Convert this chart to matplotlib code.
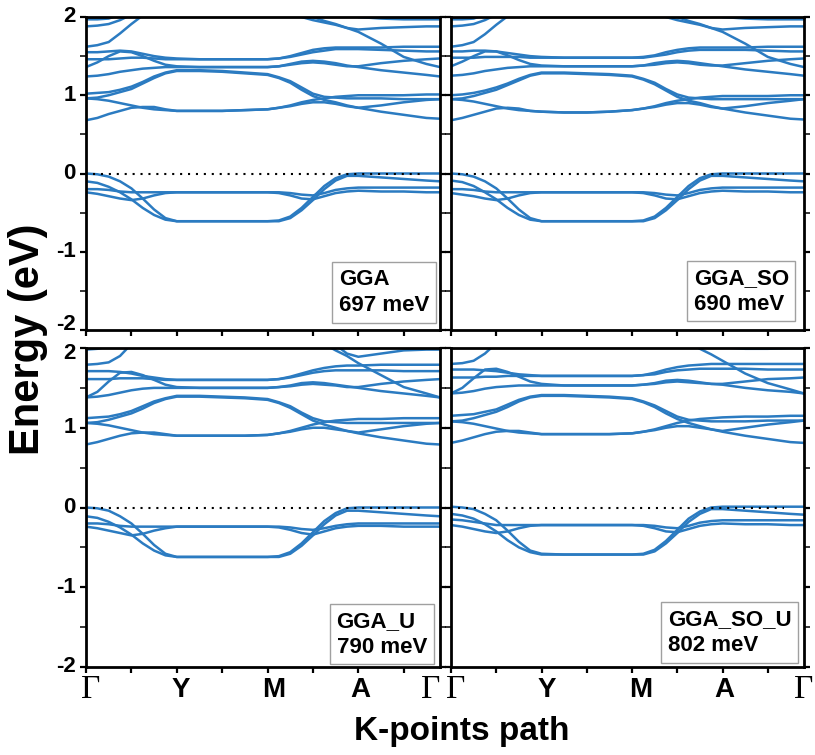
import numpy as np
import matplotlib.pyplot as plt
from matplotlib.ticker import MultipleLocator, NullFormatter
import matplotlib.transforms as mtransforms

plt.rcParams['font.family'] = ['Liberation Sans', 'DejaVu Sans']
plt.rcParams['font.weight'] = 'bold'

nan = np.nan

# k-path sampling (Gamma-Y-M-A-Gamma), finer where the bands bend
k = [0, 0.25, 0.5, 0.75, 1, 1.25, 1.5, 1.75, 2, 2.5, 3, 3.5, 4,
     4.25, 4.5, 4.75, 5, 5.25, 5.5, 5.75, 6, 6.5, 7, 7.5, 7.8]

# ---------------- GGA ----------------
gga_vb = [
    [0.00, -0.01, -0.04, -0.10, -0.19, -0.32, -0.46, -0.57, -0.61, -0.61, -0.61, -0.61, -0.61, -0.60, -0.55, -0.44, -0.30, -0.16, -0.06, -0.01, 0.00, 0.00, 0.00, 0.00, 0.00],
    [-0.10, -0.12, -0.17, -0.24, -0.33, -0.44, -0.53, -0.59, -0.61, -0.61, -0.61, -0.61, -0.61, -0.61, -0.57, -0.47, -0.34, -0.20, -0.09, -0.03, -0.03, -0.05, -0.07, -0.09, -0.10],
    [-0.20, -0.20, -0.21, -0.23, -0.24, -0.24, -0.24, -0.24, -0.24, -0.24, -0.24, -0.24, -0.24, -0.24, -0.25, -0.27, -0.28, -0.25, -0.21, -0.19, -0.18, -0.18, -0.18, -0.18, -0.18],
    [-0.24, -0.26, -0.29, -0.32, -0.34, -0.32, -0.28, -0.25, -0.24, -0.24, -0.24, -0.24, -0.24, -0.25, -0.28, -0.32, -0.33, -0.29, -0.25, -0.23, -0.22, -0.23, -0.23, -0.24, -0.24],
]
gga_cb = [
    [0.68, 0.71, 0.76, 0.80, 0.84, 0.85, 0.85, 0.82, 0.80, 0.80, 0.80, 0.81, 0.82, 0.84, 0.87, 0.91, 0.94, 0.96, 0.98, 0.99, 1.00, 1.00, 1.00, 1.01, 1.01],
    [0.96, 0.95, 0.93, 0.90, 0.87, 0.84, 0.82, 0.81, 0.80, 0.80, 0.80, 0.81, 0.82, 0.84, 0.86, 0.89, 0.91, 0.91, 0.89, 0.86, 0.84, 0.87, 0.91, 0.94, 0.95],
    [0.96, 0.97, 1.00, 1.04, 1.08, 1.15, 1.22, 1.28, 1.31, 1.31, 1.30, 1.28, 1.26, 1.22, 1.16, 1.07, 0.99, 0.94, 0.91, 0.87, 0.84, 0.79, 0.75, 0.71, 0.70],
    [1.02, 1.03, 1.04, 1.07, 1.11, 1.17, 1.24, 1.29, 1.32, 1.32, 1.31, 1.29, 1.27, 1.23, 1.18, 1.10, 1.02, 0.98, 0.97, 0.96, 0.96, 0.96, 0.95, 0.95, 0.95],
    [1.24, 1.25, 1.27, 1.30, 1.32, 1.34, 1.35, 1.36, 1.36, 1.36, 1.36, 1.36, 1.36, 1.37, 1.40, 1.43, 1.44, 1.43, 1.41, 1.38, 1.36, 1.32, 1.29, 1.26, 1.24],
    [1.36, 1.42, 1.50, 1.56, 1.55, 1.50, 1.44, 1.39, 1.37, 1.36, 1.36, 1.36, 1.36, 1.37, 1.39, 1.41, 1.42, 1.41, 1.39, 1.37, 1.37, 1.41, 1.44, 1.46, 1.47],
    [1.46, 1.46, 1.46, 1.47, 1.48, 1.48, 1.47, 1.46, 1.46, 1.46, 1.46, 1.46, 1.46, 1.47, 1.50, 1.54, 1.58, 1.60, 1.61, 1.61, 1.61, 1.61, 1.62, 1.62, 1.62],
    [1.55, 1.55, 1.56, 1.57, 1.56, 1.53, 1.50, 1.48, 1.47, 1.46, 1.46, 1.46, 1.46, 1.47, 1.49, 1.52, 1.55, 1.57, 1.59, 1.59, 1.59, 1.58, 1.57, 1.56, 1.56],
    [1.62, 1.64, 1.68, 1.79, 1.91, 2.02, *[nan] * 9, 2.08, 2.00, 1.95, 1.91, 1.86, 1.81, 1.66, 1.49, 1.40, 1.36],
    [1.88, 1.89, 1.91, 1.96, 2.03, *[nan] * 9, 2.03, 2.00, 1.96, 1.93, 1.90, 1.86, 1.84, 1.86, 1.87, 1.88, 1.88],
    [1.97, 1.97, 1.98, 2.03, *[nan] * 15, 2.05, 2.00, 1.98, 1.97, 1.97, 1.97],
]

# ---------------- GGA_SO ----------------
gga_so_vb = [
    [0.00, -0.01, -0.04, -0.10, -0.19, -0.32, -0.46, -0.57, -0.61, -0.61, -0.61, -0.61, -0.61, -0.60, -0.55, -0.44, -0.30, -0.16, -0.06, -0.01, 0.00, 0.00, 0.00, 0.00, 0.00],
    [-0.09, -0.11, -0.16, -0.24, -0.33, -0.44, -0.53, -0.59, -0.61, -0.61, -0.61, -0.61, -0.61, -0.61, -0.57, -0.47, -0.34, -0.20, -0.09, -0.03, -0.03, -0.05, -0.07, -0.09, -0.10],
    [-0.20, -0.20, -0.21, -0.23, -0.24, -0.24, -0.24, -0.24, -0.24, -0.24, -0.24, -0.24, -0.24, -0.24, -0.25, -0.27, -0.28, -0.25, -0.21, -0.19, -0.18, -0.18, -0.18, -0.18, -0.18],
    [-0.25, -0.27, -0.29, -0.32, -0.34, -0.32, -0.28, -0.25, -0.24, -0.24, -0.24, -0.24, -0.24, -0.25, -0.28, -0.32, -0.33, -0.29, -0.25, -0.23, -0.22, -0.23, -0.23, -0.24, -0.24],
]
gga_so_cb = [
    [0.68, 0.71, 0.75, 0.79, 0.83, 0.84, 0.83, 0.80, 0.79, 0.78, 0.78, 0.79, 0.81, 0.83, 0.86, 0.90, 0.93, 0.95, 0.97, 0.98, 0.99, 0.99, 0.99, 1.00, 1.00],
    [0.95, 0.94, 0.92, 0.89, 0.86, 0.83, 0.81, 0.80, 0.79, 0.78, 0.78, 0.79, 0.81, 0.83, 0.85, 0.88, 0.90, 0.90, 0.88, 0.85, 0.83, 0.86, 0.90, 0.93, 0.95],
    [0.95, 0.96, 0.99, 1.03, 1.07, 1.13, 1.19, 1.25, 1.28, 1.28, 1.27, 1.26, 1.24, 1.20, 1.14, 1.06, 0.98, 0.93, 0.90, 0.86, 0.83, 0.78, 0.74, 0.70, 0.69],
    [1.00, 1.01, 1.03, 1.06, 1.10, 1.15, 1.21, 1.26, 1.29, 1.29, 1.28, 1.27, 1.25, 1.21, 1.16, 1.08, 1.01, 0.97, 0.96, 0.95, 0.95, 0.95, 0.95, 0.95, 0.95],
    [1.25, 1.26, 1.28, 1.31, 1.33, 1.35, 1.36, 1.37, 1.37, 1.37, 1.37, 1.37, 1.37, 1.38, 1.41, 1.43, 1.44, 1.43, 1.41, 1.39, 1.37, 1.33, 1.30, 1.27, 1.25],
    [1.37, 1.43, 1.50, 1.56, 1.56, 1.51, 1.45, 1.40, 1.38, 1.37, 1.37, 1.37, 1.37, 1.38, 1.39, 1.41, 1.42, 1.41, 1.39, 1.38, 1.38, 1.41, 1.44, 1.46, 1.47],
    [1.48, 1.48, 1.48, 1.49, 1.49, 1.49, 1.49, 1.48, 1.48, 1.48, 1.48, 1.48, 1.48, 1.49, 1.51, 1.55, 1.58, 1.60, 1.61, 1.61, 1.61, 1.61, 1.62, 1.62, 1.62],
    [1.56, 1.56, 1.57, 1.57, 1.56, 1.54, 1.52, 1.50, 1.49, 1.48, 1.48, 1.48, 1.48, 1.48, 1.50, 1.52, 1.55, 1.57, 1.58, 1.58, 1.58, 1.58, 1.57, 1.56, 1.56],
    [1.62, 1.64, 1.68, 1.78, 1.90, 2.01, *[nan] * 9, 2.08, 2.00, 1.95, 1.91, 1.86, 1.81, 1.66, 1.49, 1.40, 1.36],
    [1.88, 1.89, 1.91, 1.96, 2.03, *[nan] * 9, 2.03, 2.00, 1.96, 1.93, 1.90, 1.86, 1.84, 1.86, 1.87, 1.88, 1.88],
    [1.97, 1.97, 1.98, 2.03, *[nan] * 15, 2.05, 2.00, 1.98, 1.97, 1.97, 1.97],
]

# ---------------- GGA_U ----------------
gga_u_vb = [
    [0.00, -0.01, -0.04, -0.11, -0.20, -0.33, -0.47, -0.58, -0.62, -0.62, -0.62, -0.62, -0.62, -0.61, -0.56, -0.45, -0.31, -0.17, -0.07, -0.01, 0.00, 0.00, 0.00, 0.00, 0.00],
    [-0.11, -0.13, -0.18, -0.25, -0.34, -0.45, -0.54, -0.60, -0.62, -0.62, -0.62, -0.62, -0.62, -0.62, -0.58, -0.48, -0.35, -0.21, -0.10, -0.04, -0.04, -0.06, -0.08, -0.10, -0.11],
    [-0.20, -0.20, -0.21, -0.23, -0.24, -0.24, -0.24, -0.24, -0.24, -0.24, -0.24, -0.24, -0.24, -0.24, -0.25, -0.27, -0.28, -0.26, -0.23, -0.21, -0.20, -0.20, -0.20, -0.20, -0.20],
    [-0.24, -0.26, -0.29, -0.32, -0.35, -0.33, -0.29, -0.26, -0.24, -0.24, -0.24, -0.24, -0.24, -0.25, -0.28, -0.32, -0.34, -0.30, -0.26, -0.24, -0.23, -0.23, -0.24, -0.24, -0.24],
]
gga_u_cb = [
    [0.79, 0.82, 0.86, 0.90, 0.93, 0.94, 0.94, 0.92, 0.90, 0.90, 0.90, 0.90, 0.91, 0.93, 0.96, 1.00, 1.04, 1.07, 1.09, 1.10, 1.11, 1.11, 1.12, 1.12, 1.12],
    [1.06, 1.05, 1.03, 1.00, 0.97, 0.94, 0.92, 0.91, 0.90, 0.90, 0.90, 0.90, 0.91, 0.93, 0.95, 0.98, 1.00, 1.00, 0.98, 0.96, 0.94, 0.98, 1.02, 1.05, 1.06],
    [1.06, 1.07, 1.10, 1.14, 1.18, 1.24, 1.31, 1.36, 1.39, 1.39, 1.38, 1.37, 1.35, 1.31, 1.25, 1.17, 1.09, 1.04, 1.00, 0.96, 0.93, 0.88, 0.84, 0.80, 0.79],
    [1.12, 1.13, 1.14, 1.17, 1.21, 1.27, 1.33, 1.37, 1.40, 1.40, 1.39, 1.38, 1.36, 1.32, 1.27, 1.19, 1.12, 1.08, 1.07, 1.06, 1.06, 1.06, 1.06, 1.06, 1.06],
    [1.38, 1.39, 1.41, 1.44, 1.47, 1.49, 1.50, 1.50, 1.50, 1.50, 1.50, 1.50, 1.50, 1.51, 1.53, 1.56, 1.57, 1.56, 1.54, 1.52, 1.50, 1.46, 1.43, 1.40, 1.38],
    [1.38, 1.45, 1.58, 1.69, 1.70, 1.66, 1.60, 1.54, 1.51, 1.50, 1.50, 1.50, 1.50, 1.51, 1.52, 1.54, 1.55, 1.54, 1.53, 1.51, 1.51, 1.55, 1.58, 1.60, 1.61],
    [1.61, 1.61, 1.61, 1.62, 1.62, 1.62, 1.61, 1.60, 1.60, 1.60, 1.60, 1.60, 1.60, 1.61, 1.64, 1.68, 1.72, 1.75, 1.77, 1.78, 1.78, 1.79, 1.79, 1.79, 1.79],
    [1.71, 1.71, 1.71, 1.70, 1.68, 1.65, 1.63, 1.61, 1.60, 1.60, 1.60, 1.60, 1.60, 1.61, 1.63, 1.66, 1.69, 1.71, 1.72, 1.72, 1.72, 1.72, 1.71, 1.71, 1.71],
    [1.79, 1.80, 1.82, 1.90, 2.05, *[nan] * 12, 2.05, 1.97, 1.90, 1.81, 1.66, 1.51, 1.43, 1.38],
    [1.98, 1.99, 2.02, *[nan] * 15, 2.04, 1.93, 1.89, 1.93, 1.97, 1.98, 1.98],
]

# ---------------- GGA_SO_U ----------------
gga_so_u_vb = [
    [0.01, 0.00, -0.02, -0.08, -0.16, -0.29, -0.43, -0.54, -0.58, -0.59, -0.59, -0.59, -0.59, -0.58, -0.53, -0.42, -0.28, -0.14, -0.05, 0.00, 0.01, 0.01, 0.01, 0.01, 0.01],
    [-0.08, -0.10, -0.14, -0.21, -0.30, -0.41, -0.50, -0.56, -0.59, -0.59, -0.59, -0.59, -0.59, -0.59, -0.55, -0.45, -0.32, -0.18, -0.08, -0.02, -0.02, -0.04, -0.06, -0.08, -0.09],
    [-0.15, -0.16, -0.18, -0.20, -0.22, -0.22, -0.22, -0.22, -0.22, -0.22, -0.22, -0.22, -0.22, -0.22, -0.23, -0.25, -0.26, -0.23, -0.19, -0.17, -0.16, -0.16, -0.16, -0.16, -0.16],
    [-0.22, -0.24, -0.27, -0.30, -0.32, -0.30, -0.26, -0.23, -0.22, -0.22, -0.22, -0.22, -0.22, -0.23, -0.26, -0.30, -0.31, -0.27, -0.23, -0.21, -0.20, -0.21, -0.21, -0.22, -0.22],
]
gga_so_u_cb = [
    [0.81, 0.84, 0.88, 0.92, 0.95, 0.96, 0.96, 0.94, 0.92, 0.92, 0.92, 0.92, 0.93, 0.95, 0.98, 1.02, 1.06, 1.09, 1.11, 1.12, 1.13, 1.14, 1.14, 1.15, 1.15],
    [1.08, 1.07, 1.05, 1.02, 0.99, 0.96, 0.94, 0.93, 0.92, 0.92, 0.92, 0.92, 0.93, 0.95, 0.97, 1.00, 1.02, 1.02, 1.00, 0.98, 0.96, 1.00, 1.04, 1.07, 1.09],
    [1.08, 1.09, 1.12, 1.16, 1.20, 1.26, 1.33, 1.38, 1.40, 1.40, 1.39, 1.38, 1.36, 1.32, 1.26, 1.18, 1.11, 1.06, 1.02, 0.98, 0.95, 0.90, 0.86, 0.82, 0.81],
    [1.15, 1.16, 1.17, 1.20, 1.23, 1.29, 1.35, 1.39, 1.41, 1.41, 1.40, 1.39, 1.37, 1.33, 1.28, 1.21, 1.14, 1.10, 1.09, 1.08, 1.08, 1.08, 1.09, 1.09, 1.09],
    [1.43, 1.44, 1.46, 1.49, 1.51, 1.52, 1.53, 1.53, 1.53, 1.53, 1.53, 1.53, 1.53, 1.54, 1.56, 1.59, 1.60, 1.59, 1.57, 1.55, 1.54, 1.50, 1.47, 1.45, 1.43],
    [1.43, 1.50, 1.62, 1.73, 1.74, 1.70, 1.64, 1.58, 1.55, 1.53, 1.53, 1.53, 1.53, 1.54, 1.55, 1.57, 1.58, 1.57, 1.56, 1.55, 1.55, 1.58, 1.61, 1.62, 1.63],
    [1.63, 1.63, 1.63, 1.64, 1.64, 1.65, 1.65, 1.65, 1.65, 1.65, 1.65, 1.65, 1.65, 1.66, 1.69, 1.73, 1.76, 1.78, 1.79, 1.80, 1.80, 1.80, 1.80, 1.80, 1.80],
    [1.73, 1.73, 1.73, 1.72, 1.71, 1.69, 1.67, 1.66, 1.65, 1.65, 1.65, 1.65, 1.65, 1.66, 1.67, 1.70, 1.72, 1.73, 1.74, 1.74, 1.74, 1.74, 1.73, 1.73, 1.73],
    [1.80, 1.81, 1.84, 1.93, 2.06, *[nan] * 12, 2.07, 1.99, 1.92, 1.84, 1.68, 1.56, 1.48, 1.43],
    [2.00, 2.01, 2.04, *[nan] * 16, 2.03, 2.01, 1.99, 1.99, 2.00, 2.00],
]

methods = ['GGA', 'GGA_SO', 'GGA_U', 'GGA_SO_U']
gaps_mev = [697, 690, 790, 802]
panel_bands = [gga_vb + gga_cb, gga_so_vb + gga_so_cb,
               gga_u_vb + gga_u_cb, gga_so_u_vb + gga_so_u_cb]
kpt_labels = ['Γ', 'Y', 'M', 'A', 'Γ']
energy_ticks = [-2, -1, 0, 1, 2]

W, H = 815, 755
# axes boxes in pixels: x0, y0(top), x1, y1(bottom)
boxes = [(86, 17, 440, 330), (451, 17, 804, 330),
         (86, 348, 440, 667), (451, 348, 804, 667)]
label_pos = [[0.11, 2.09, 4.14, 6.04, 7.6], [0.11, 2.12, 4.2, 6.05, 7.8]]
note_xy = [(0.970, 0.045), (0.957, 0.049), (0.963, 0.029), (0.965, 0.035)]

band_color = '#2b7bc1'

fig = plt.figure(figsize=(W / 100, H / 100), dpi=100)

for i in range(4):
    x0, y0, x1, y1 = boxes[i]
    ax = fig.add_axes([x0 / W, 1 - y1 / H, (x1 - x0) / W, (y1 - y0) / H])

    for band in panel_bands[i]:
        ax.plot(k, band, color=band_color, lw=1.8, solid_capstyle='round',
                solid_joinstyle='round')

    # Fermi level
    ax.plot([0.15, 7.35], [0, 0], color='black', lw=1.5, linestyle=(0, (1, 2.8)))

    ax.set_xlim(0, 7.8)
    ax.set_ylim(-2, 2)
    ax.xaxis.set_major_locator(MultipleLocator(1))
    ax.xaxis.set_major_formatter(NullFormatter())
    ax.yaxis.set_major_locator(MultipleLocator(1))
    ax.yaxis.set_minor_locator(MultipleLocator(0.5))
    ax.yaxis.set_major_formatter(NullFormatter())
    ax.tick_params(which='both', direction='out', length=4.5, top=False, right=True)
    ax.tick_params(which='major', width=1.6)
    ax.tick_params(which='minor', width=1.1)
    for s in ax.spines.values():
        s.set_linewidth(2.0)

    # energy labels on the left column (the -2 / 2 pair between rows nudged apart)
    if i % 2 == 0:
        ytrans = mtransforms.blended_transform_factory(ax.transAxes, ax.transData)
        for yv in energy_ticks:
            dy = 0
            if i == 0 and yv == -2:
                dy = 5
            if i == 2 and yv == 2:
                dy = -5
            off = mtransforms.ScaledTranslation(-10 / 100, dy / 100, fig.dpi_scale_trans)
            ax.text(0, yv, str(yv), transform=ytrans + off, ha='right', va='center',
                    fontsize=16, fontweight='bold')

    if i >= 2:
        trans = mtransforms.blended_transform_factory(ax.transData, ax.transAxes)
        for lab, xp in zip(kpt_labels, label_pos[i % 2]):
            if lab == 'Γ':
                ax.text(xp, -0.025, lab, transform=trans, ha='center', va='top',
                        fontsize=24, fontweight='normal', family='Liberation Serif')
            else:
                ax.text(xp, -0.03, lab, transform=trans, ha='center', va='top',
                        fontsize=20, fontweight='bold')

    nx, ny = note_xy[i]
    ax.text(nx, ny, f'{methods[i]}\n{gaps_mev[i]} meV', transform=ax.transAxes,
            ha='right', va='bottom', ma='left', fontsize=16, fontweight='bold',
            linespacing=1.3,
            bbox=dict(boxstyle='square,pad=0.3', fc='white', ec='#a0a0a0', lw=1.0))

fig.text(0.034, 0.55, 'Energy (eV)', rotation=90, ha='center', va='center',
         fontsize=30, fontweight='bold')
fig.text(0.567, 0.031, 'K-points path', ha='center', va='center',
         fontsize=24, fontweight='bold')

fig.savefig('out.png', dpi=100)
